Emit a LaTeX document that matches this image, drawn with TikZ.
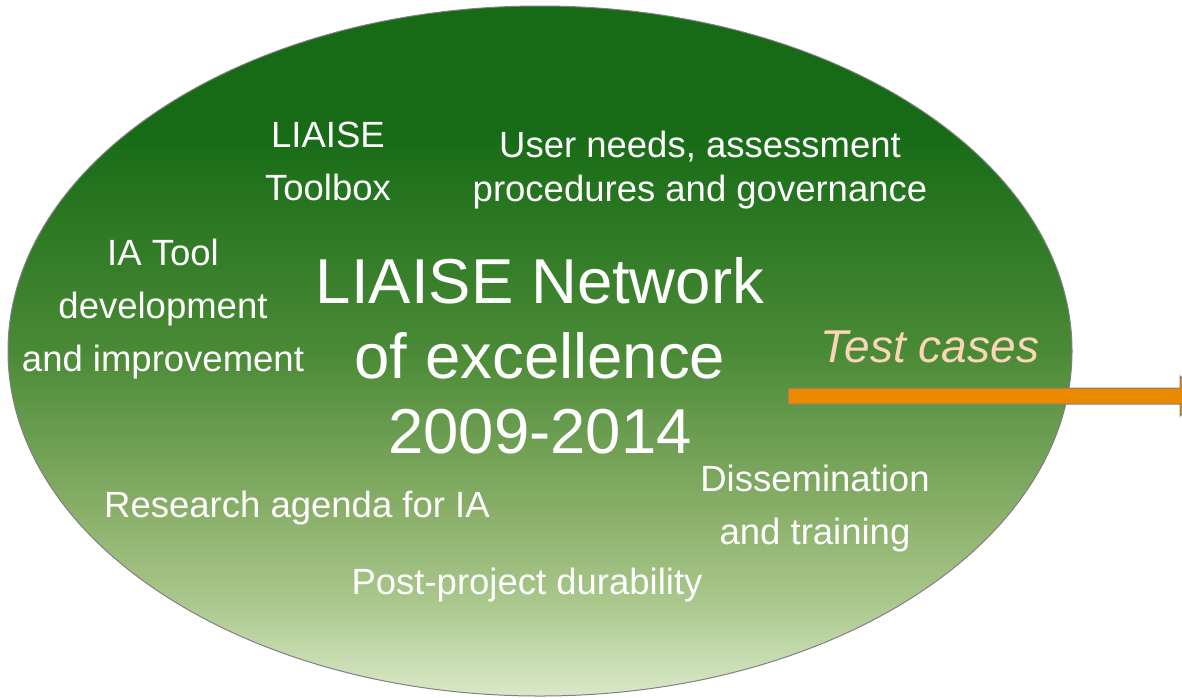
\documentclass[tikz,border=0pt]{standalone}
\usepackage{fontspec}
\setmainfont{Liberation Sans}
\usetikzlibrary{shapes.geometric}
\definecolor{leafdark}{RGB}{23,107,22}
\definecolor{leafmid}{RGB}{74,138,54}
\definecolor{leaflight}{RGB}{134,173,102}
\definecolor{leafpale}{RGB}{169,199,139}
\definecolor{leafend}{RGB}{218,232,200}
\definecolor{rimgray}{RGB}{128,128,128}
\definecolor{peach}{RGB}{251,213,181}
\definecolor{barorange}{RGB}{233,138,0}
% vertical green fade used for the big ellipse
\pgfdeclareverticalshading{leafshade}{100bp}{color(0bp)=(leafend); color(25bp)=(leafend);
  color(32bp)=(leafpale); color(39bp)=(leaflight); color(50bp)=(leafmid);
  color(66bp)=(leafdark); color(75bp)=(leafdark); color(100bp)=(leafdark)}
\tikzset{
  topic/.style={text=white, font=\fontsize{36.5}{53}\selectfont, align=center},
  title/.style={text=white, font=\fontsize{63.5}{75}\selectfont, align=center},
}

\begin{document}
\begin{tikzpicture}[x=1pt,y=-1pt]
  \useasboundingbox (0,0) rectangle (1182,697);
  \clip (0,0) rectangle (1182,697);
  % network ellipse
  \node[ellipse, draw=rimgray, line width=1pt, shading=leafshade,
        minimum width=1064pt, minimum height=690pt, inner sep=0pt] (net) at (540,351) {};
  % topics around the title
  \node[title] (name) at (540,356) {LIAISE Network\\of excellence\\2009-2014};
  \node[topic] (toolbox) at (328,161) {LIAISE\\Toolbox};
  \node[topic, font=\fontsize{36.5}{44}\selectfont] (needs) at (700,170) {User needs, assessment\\procedures and governance};
  \node[topic] (tooldev) at (163,309) {IA Tool\\development\\and improvement};
  \node[topic] (agenda) at (297,508) {Research agenda for IA};
  \node[topic] (dissem) at (815,509) {Dissemination\\and training};
  \node[topic] (durable) at (527,585) {Post-project durability};
  \node[topic, text=peach, font=\fontsize{46}{50}\selectfont\itshape] (tests) at (930,347) {Test cases};
  % arrow leading out to the test cases
  \coordinate (barstart) at (788,396);
  \draw[rimgray, fill=barorange, line width=1pt]
    (barstart) ++(0,-8) -- ++(392,0) -- ++(0,-12) -- ++(24,20) -- ++(-24,20) -- ++(0,-12) -- ++(-392,0) -- cycle;
\end{tikzpicture}
\end{document}
